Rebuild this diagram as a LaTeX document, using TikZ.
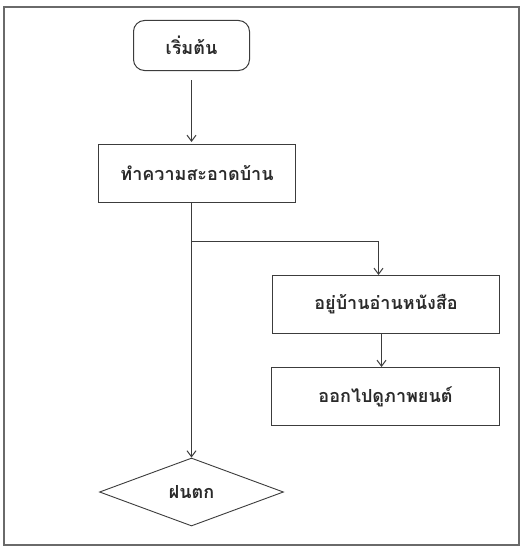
\documentclass[tikz,border=0pt]{standalone}
\usepackage{fontspec}
\newfontfamily\thaifont[Script=Thai]{Loma}
\usetikzlibrary{shapes.geometric,arrows.meta}
\definecolor{linec}{HTML}{3C3C3C}
\definecolor{framec}{HTML}{6A6A6A}
\definecolor{textc}{HTML}{2A2A2A}
\begin{document}
\begin{tikzpicture}[x=1pt,y=-1pt,
  every node/.style={font=\thaifont\bfseries\fontsize{18}{20}\selectfont,text=textc},
  termbox/.style={draw=linec,line width=1pt,rounded corners=11pt,minimum width=116pt,minimum height=50pt,inner sep=0pt},
  procbox/.style={draw=linec,line width=1pt,minimum height=58pt,inner sep=0pt},
  decbox/.style={draw=linec,line width=0.9pt,shape=diamond,minimum width=184pt,minimum height=68pt,inner sep=0pt,aspect=2.7},
  flow/.style={draw=linec,line width=1pt,-{Straight Barb[length=6pt,width=9pt]}},
  plain/.style={draw=linec,line width=1pt}]
\useasboundingbox (0,0) rectangle (526,551);
\fill[white] (0,0) rectangle (526,551);
\draw[framec,line width=2pt] (3.5,7.5) rectangle (518.5,544.5);
\node[termbox] (start) at (191.5,45.5) {เริ่มต้น};
\node[procbox,minimum width=197pt] (clean) at (197,173.5) {ทำความสะอาดบ้าน};
\node[procbox,minimum width=227pt] (read) at (386,304.5) {อยู่บ้านอ่านหนังสือ};
\node[procbox,minimum width=228pt] (movie) at (385.5,396.5) {ออกไปดูภาพยนต์};
\node[decbox] (rain) at (191.5,492) {ฝนตก};
\coordinate (s1) at (191.5,80);
\coordinate (split) at (191.5,241.5);
\coordinate (turn) at (378.5,241.5);
\draw[flow] (s1) -- (191.5,142);
\draw[plain] (clean.south -| split) -- (split);
\draw[flow] (split) -- (rain.north);
\draw[flow] (split) -- (turn) -- (turn |- read.north);
\draw[flow] (read.south -| 381.5,0) -- (movie.north -| 381.5,0);
\end{tikzpicture}
\end{document}
